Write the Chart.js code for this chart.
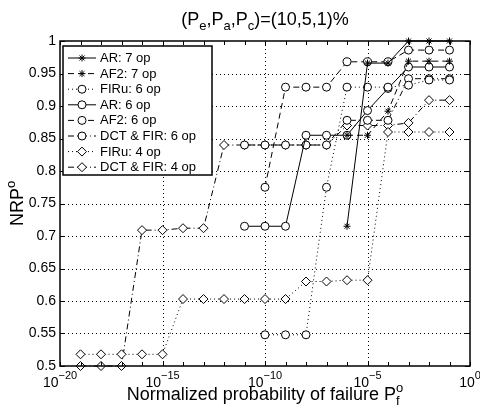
<!DOCTYPE html>
<html>
<head>
<meta charset="utf-8">
<script src="https://cdn.jsdelivr.net/npm/chart.js@4.4.1/dist/chart.umd.min.js"></script>
<style>
  html, body { margin: 0; padding: 0; background: #fff; }
  #wrap { width: 480px; height: 410px; }
</style>
</head>
<body>
<div id="wrap"><canvas id="chart" width="480" height="410"></canvas></div>
<script>
// x values are exponents: P = 10^e
const ar7Exp = [-6, -5, -4, -3, -2, -1];
const ar7Val = [0.715, 0.966, 0.966, 1.0, 1.0, 1.0];

const af27Exp = [-6, -5, -4, -3, -2, -1];
const af27Val = [0.855, 0.855, 0.892, 0.969, 0.969, 0.969];

const firu6Exp = [-10, -9, -8, -7, -6, -5, -4, -3, -2, -1];
const firu6Val = [0.548, 0.548, 0.548, 0.775, 0.929, 0.929, 0.929, 0.932, 0.94, 0.94];

const ar6Exp = [-11, -10, -9, -8, -7, -6, -5, -4, -3, -2, -1];
const ar6Val = [0.715, 0.715, 0.715, 0.855, 0.855, 0.855, 0.893, 0.927, 0.96, 0.96, 0.96];

const af26Exp = [-10, -9, -8, -7, -6, -5, -4, -3, -2, -1];
const af26Val = [0.775, 0.929, 0.929, 0.929, 0.968, 0.968, 0.968, 0.986, 0.986, 0.986];

const dct6Exp = [-11, -10, -9, -8, -7, -6, -5, -4, -3, -2, -1];
const dct6Val = [0.84, 0.84, 0.84, 0.84, 0.84, 0.878, 0.878, 0.878, 0.942, 0.942, 0.942];

const firu4Exp = [-19, -18, -17, -16, -15, -14, -13, -12, -11, -10, -9, -8, -7, -6, -5, -4, -3, -2, -1];
const firu4Val = [0.518, 0.518, 0.518, 0.518, 0.518, 0.603, 0.603, 0.603, 0.603, 0.603, 0.603, 0.63, 0.63, 0.632, 0.632, 0.86, 0.86, 0.86, 0.86];

const dct4Exp = [-19, -18, -17, -16, -15, -14, -13, -12, -11, -10, -9, -8, -7, -6, -5, -4, -3, -2, -1];
const dct4Val = [0.5, 0.5, 0.5, 0.709, 0.709, 0.712, 0.712, 0.84, 0.84, 0.84, 0.84, 0.84, 0.84, 0.87, 0.87, 0.87, 0.874, 0.909, 0.909];

const seriesNames = ['AR: 7 op', 'AF2: 7 op', 'FIRu: 6 op', 'AR: 6 op', 'AF2: 6 op', 'DCT & FIR: 6 op', 'FIRu: 4 op', 'DCT & FIR: 4 op'];

// tick labels
const xTickExps = [-20, -15, -10, -5, 0];
const yTickLabels = ['0.5', '0.55', '0.6', '0.65', '0.7', '0.75', '0.8', '0.85', '0.9', '0.95', '1'];

const FONT = '"Liberation Sans", Arial, Helvetica, sans-serif';
const SOLID = [];
const DASHED = [6, 4];
const DASHDOT = [6, 3, 1, 3];
const DOTTED = [1, 3];

function toPoints(exps, vals) {
  return exps.map((e, i) => ({ x: Math.pow(10, e), y: vals[i] }));
}

function makeSet(idx, exps, vals, marker, dash) {
  return {
    label: seriesNames[idx],
    data: toPoints(exps, vals),
    showLine: true,
    borderColor: '#000',
    borderWidth: 1,
    borderDash: dash,
    pointStyle: marker,
    pointRadius: marker === 'star' ? 3.5 : (marker === 'rectRot' ? 4.5 : 4),
    pointBorderColor: '#000',
    pointBackgroundColor: marker === 'star' ? '#000' : '#fff',
    pointBorderWidth: 1,
    clip: false
  };
}

const datasets = [
  makeSet(0, ar7Exp, ar7Val, 'star', SOLID),
  makeSet(1, af27Exp, af27Val, 'star', DASHED),
  makeSet(2, firu6Exp, firu6Val, 'circle', DOTTED),
  makeSet(3, ar6Exp, ar6Val, 'circle', SOLID),
  makeSet(4, af26Exp, af26Val, 'circle', DASHED),
  makeSet(5, dct6Exp, dct6Val, 'circle', DASHDOT),
  makeSet(6, firu4Exp, firu4Val, 'rectRot', DOTTED),
  makeSet(7, dct4Exp, dct4Val, 'rectRot', DASHDOT)
];

// draw a marker for the legend
function drawMarker(ctx, style, x, y) {
  ctx.save();
  ctx.setLineDash([]);
  ctx.lineWidth = 1;
  ctx.strokeStyle = '#000';
  ctx.fillStyle = '#fff';
  ctx.beginPath();
  if (style === 'star') {
    const r = 3.5, d = r * Math.SQRT1_2;
    ctx.moveTo(x - r, y); ctx.lineTo(x + r, y);
    ctx.moveTo(x, y - r); ctx.lineTo(x, y + r);
    ctx.moveTo(x - d, y - d); ctx.lineTo(x + d, y + d);
    ctx.moveTo(x - d, y + d); ctx.lineTo(x + d, y - d);
    ctx.stroke();
  } else if (style === 'circle') {
    ctx.arc(x, y, 4, 0, Math.PI * 2);
    ctx.fill(); ctx.stroke();
  } else {
    const r = 4.5;
    ctx.moveTo(x - r, y); ctx.lineTo(x, y - r); ctx.lineTo(x + r, y); ctx.lineTo(x, y + r);
    ctx.closePath();
    ctx.fill(); ctx.stroke();
  }
  ctx.restore();
}

// parts: [text, mode, supText]; mode 0 normal, 1 subscript (+ optional superscript), 2 superscript only
function drawRich(ctx, parts, cx, baseY, big, small) {
  ctx.save();
  ctx.textAlign = 'left';
  ctx.textBaseline = 'alphabetic';
  ctx.fillStyle = '#000';
  let total = 0;
  const widths = parts.map(p => {
    let w;
    if (p[1] === 0) { ctx.font = big + 'px ' + FONT; w = ctx.measureText(p[0]).width; }
    else {
      ctx.font = small + 'px ' + FONT;
      w = Math.max(ctx.measureText(p[0]).width, p[2] ? ctx.measureText(p[2]).width : 0);
    }
    total += w;
    return w;
  });
  let cur = cx - total / 2;
  parts.forEach((p, i) => {
    if (p[1] === 0) {
      ctx.font = big + 'px ' + FONT;
      ctx.fillText(p[0], cur, baseY);
    } else {
      ctx.font = small + 'px ' + FONT;
      if (p[0]) ctx.fillText(p[0], cur, baseY + big * 0.28);
      if (p[2]) ctx.fillText(p[2], cur, baseY - big * 0.45);
    }
    cur += widths[i];
  });
  ctx.restore();
}

const axesPlugin = {
  id: 'matlabAxes',
  beforeDatasetsDraw(chart) {
    const { ctx, chartArea: a, scales: { x, y } } = chart;
    ctx.save();
    ctx.strokeStyle = '#000';
    ctx.lineWidth = 1;
    ctx.setLineDash([1, 3]);
    // horizontal grid
    yTickLabels.forEach(t => {
      const v = parseFloat(t);
      if (v <= 0.5 || v >= 1) return;
      const py = Math.round(y.getPixelForValue(v)) + 0.5;
      ctx.beginPath(); ctx.moveTo(a.left, py); ctx.lineTo(a.right, py); ctx.stroke();
    });
    // vertical grid
    xTickExps.forEach(e => {
      if (e <= -20 || e >= 0) return;
      const px = Math.round(x.getPixelForValue(Math.pow(10, e))) + 0.5;
      ctx.beginPath(); ctx.moveTo(px, a.top); ctx.lineTo(px, a.bottom); ctx.stroke();
    });
    ctx.restore();
  },
  afterDraw(chart) {
    const { ctx, chartArea: a, scales: { x, y } } = chart;
    ctx.save();
    ctx.setLineDash([]);
    ctx.strokeStyle = '#000';
    ctx.lineWidth = 1.5;
    const L = Math.round(a.left), R = Math.round(a.right);
    const T = Math.round(a.top), B = Math.round(a.bottom);
    ctx.strokeRect(L, T, R - L, B - T);

    // minor ticks every decade
    ctx.lineWidth = 1;
    ctx.beginPath();
    for (let e = -20; e <= 0; e++) {
      const px = Math.round(x.getPixelForValue(Math.pow(10, e))) + 0.5;
      ctx.moveTo(px, B); ctx.lineTo(px, B - 4);
      ctx.moveTo(px, T); ctx.lineTo(px, T + 4);
    }
    yTickLabels.forEach(t => {
      const py = Math.round(y.getPixelForValue(parseFloat(t))) + 0.5;
      ctx.moveTo(L, py); ctx.lineTo(L + 5, py);
      ctx.moveTo(R, py); ctx.lineTo(R - 5, py);
    });
    ctx.stroke();

    ctx.fillStyle = '#000';
    // y tick labels
    ctx.font = '14px ' + FONT;
    ctx.textAlign = 'right';
    ctx.textBaseline = 'middle';
    yTickLabels.forEach(t => {
      ctx.fillText(t, a.left - 4, y.getPixelForValue(parseFloat(t)));
    });

    // x tick labels 10^e
    ctx.textBaseline = 'alphabetic';
    ctx.textAlign = 'left';
    xTickExps.forEach(e => {
      const px = x.getPixelForValue(Math.pow(10, e));
      const sup = e < 0 ? '\u2212' + (-e) : String(e);
      ctx.font = '14px ' + FONT;
      const wb = ctx.measureText('10').width;
      ctx.font = '11px ' + FONT;
      const ws = ctx.measureText(sup).width;
      const x0 = px - (wb + ws) / 2;
      ctx.font = '14px ' + FONT;
      ctx.fillText('10', x0, a.bottom + 21);
      ctx.font = '11px ' + FONT;
      ctx.fillText(sup, x0 + wb, a.bottom + 13);
    });

    // title (P_e,P_a,P_c)=(10,5,1)%
    const titleParts = [['(P', 0], ['e', 1], [',P', 0], ['a', 1], [',P', 0], ['c', 1], [')=(10,5,1)%', 0]];
    drawRich(ctx, titleParts, (a.left + a.right) / 2, 25, 18, 13);

    // x axis label
    const xParts = [['Normalized probability of failure P', 0], ['f', 1, 'o']];
    drawRich(ctx, xParts, (a.left + a.right) / 2, 400, 18, 13);

    // y axis label
    ctx.save();
    ctx.translate(23, (a.top + a.bottom) / 2);
    ctx.rotate(-Math.PI / 2);
    drawRich(ctx, [['NRP', 0], ['', 2, 'o']], 0, 0, 18, 13);
    ctx.restore();

    // legend
    const bx = 63, by = 46, bw = 149, bh = 129;
    ctx.fillStyle = '#fff';
    ctx.fillRect(bx, by, bw, bh);
    ctx.lineWidth = 1.5;
    ctx.strokeRect(bx, by, bw, bh);
    chart.data.datasets.forEach((ds, i) => {
      const ry = 58 + i * 15.6;
      ctx.save();
      ctx.strokeStyle = '#000';
      ctx.lineWidth = 1;
      ctx.setLineDash(ds.borderDash);
      ctx.beginPath(); ctx.moveTo(68, ry); ctx.lineTo(96, ry); ctx.stroke();
      ctx.restore();
      drawMarker(ctx, ds.pointStyle, 82, ry);
      ctx.fillStyle = '#000';
      ctx.font = '13px ' + FONT;
      ctx.textAlign = 'left';
      ctx.textBaseline = 'middle';
      ctx.fillText(ds.label, 100, ry + 0.5);
    });
    ctx.restore();
  }
};

new Chart(document.getElementById('chart'), {
  type: 'scatter',
  data: { datasets },
  options: {
    responsive: false,
    animation: false,
    layout: { padding: { left: 60, right: 10, top: 41, bottom: 44 } },
    plugins: { legend: { display: false }, tooltip: { enabled: false }, title: { display: false } },
    scales: {
      x: { type: 'logarithmic', min: 1e-20, max: 1, display: false },
      y: { type: 'linear', min: 0.5, max: 1, display: false }
    }
  },
  plugins: [axesPlugin]
});
</script>
</body>
</html>
